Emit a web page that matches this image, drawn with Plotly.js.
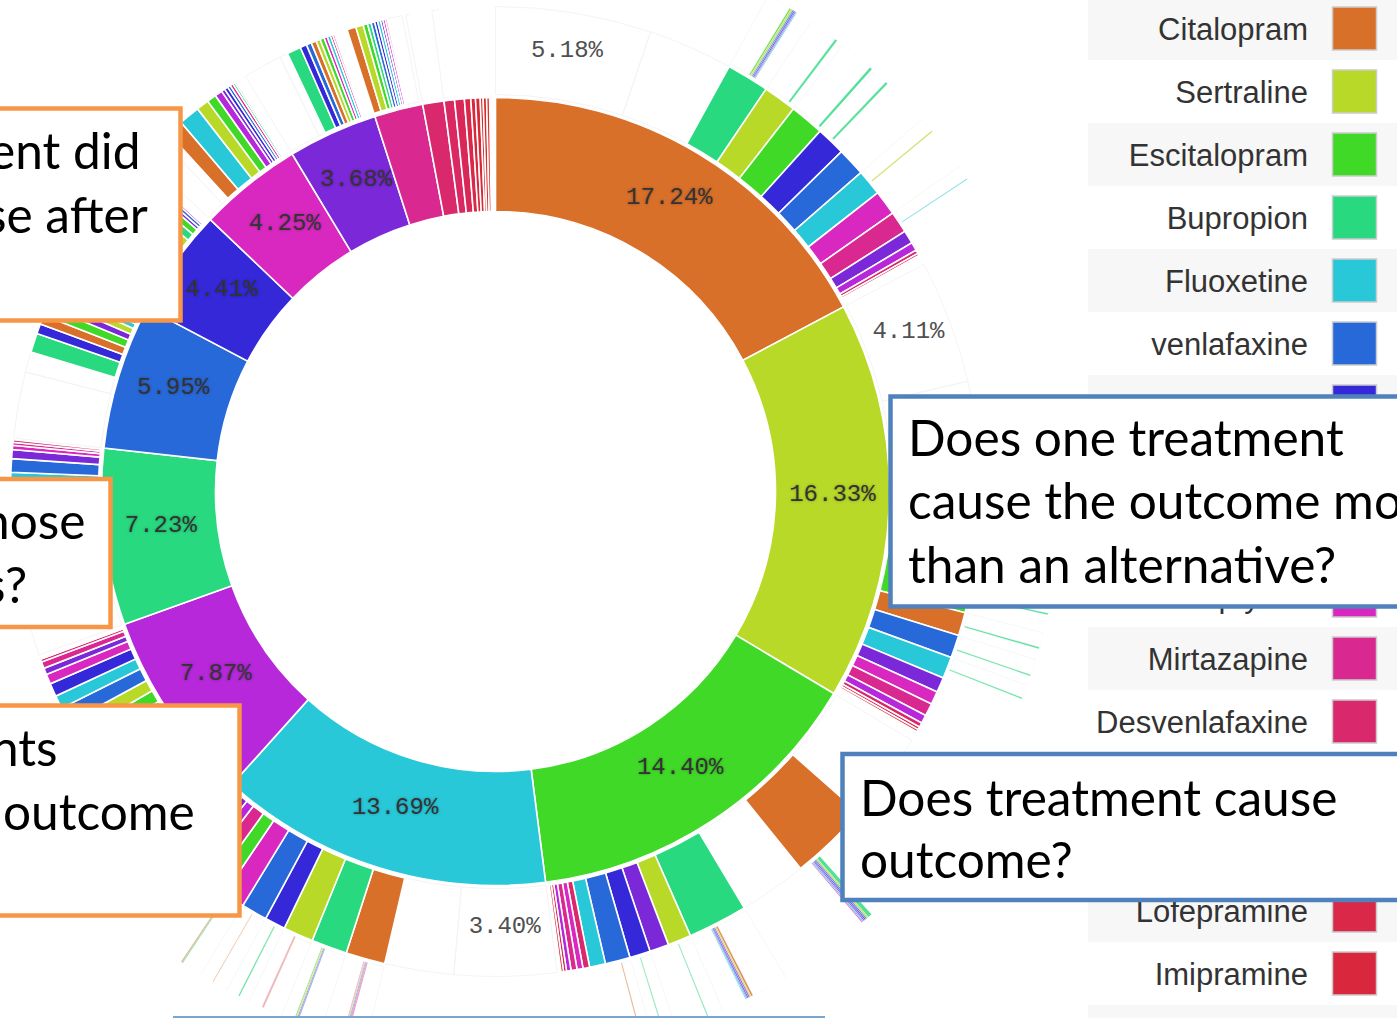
<!DOCTYPE html>
<html><head><meta charset="utf-8">
<script src="https://cdn.plot.ly/plotly-3.0.1.min.js"></script>
<style>
html,body{margin:0;padding:0;width:1397px;height:1018px;overflow:hidden;background:#fff;}
#chart{position:absolute;left:-90px;top:-90px;width:1487px;height:1180px;}
</style></head><body><div id="chart"></div>
<script>
// ---------------- data ----------------
const legendNames = ["Citalopram","Sertraline","Escitalopram","Bupropion","Fluoxetine","venlafaxine","Duloxetine","Paroxetine","Trazodone","Amitriptyline","Mirtazapine","Desvenlafaxine","Nortriptyline","Dosulepin","Lofepramine","Imipramine","Trimipramine","Clomipramine","Phenelzine","Moclobemide"];
const legendColors = ["#d9702a","#b8d928","#41d928","#28d97f","#28c8d9","#2869d9","#3428d9","#7b28d9","#b628d9","#d928c0","#d9288f","#d9286c","#d92862","#d92857","#d92848","#d9283e","#d92834","#d9282e","#d92a28","#d93028"];
// legend rows that are not fully covered by the callout boxes or the page edge
const legendTextShown = [true,true,true,true,true,true,false,false,false,true,true,true,false,false,true,true,false,false,false,false];

// ring 1: first antidepressant (% of patients), clockwise from 12 o'clock
const firstDrug = ["Citalopram","Sertraline","Escitalopram","Fluoxetine","Trazodone","Bupropion","venlafaxine","Duloxetine","Amitriptyline","Paroxetine","Mirtazapine","Desvenlafaxine","Nortriptyline","Dosulepin","Lofepramine","Imipramine","Trimipramine","Clomipramine","Phenelzine","Moclobemide"];
const firstPct = [17.24,16.33,14.40,13.69,7.87,7.23,5.95,4.41,4.25,3.68,1.99,0.87,0.43,0.40,0.26,0.19,0.19,0.12,0.14,0.12];

// ring 2: next drug after the first one ("end" = no switch, "" = unshown remainder)
const citalopramNext = [["end",5.18],["",2.82],["Bupropion",1.42],["Sertraline",1.11],["Escitalopram",1.14],["Duloxetine",0.97],["venlafaxine",0.94],["Fluoxetine",0.86],["Amitriptyline",0.83],["Mirtazapine",0.72],["Paroxetine",0.44],["Trazodone",0.28],["Desvenlafaxine",0.12],["Lofepramine",0.08],["Imipramine",0.06],["Nortriptyline",0.05]];
const sertralineNext = [["end",4.11],["",3.30],["Bupropion",1.90],["Duloxetine",0.90],["Escitalopram",1.57],["Citalopram",0.78],["venlafaxine",0.76],["Fluoxetine",0.72],["Paroxetine",0.50],["Amitriptyline",0.44],["Mirtazapine",0.42],["Trazodone",0.28],["Desvenlafaxine",0.15],["Lofepramine",0.10],["Imipramine",0.08]];
const escitalopramNext = [["end",2.96],["Citalopram",2.64],["",2.26],["Bupropion",1.99],["Sertraline",0.78],["Paroxetine",0.64],["Duloxetine",0.69],["venlafaxine",0.83],["Fluoxetine",0.53],["Desvenlafaxine",0.22],["Amitriptyline",0.20],["Mirtazapine",0.20],["Trazodone",0.15],["Lofepramine",0.10],["Imipramine",0.08]];
const fluoxetineNext = [["end",3.40],["",2.30],["Citalopram",1.31],["Bupropion",1.19],["Sertraline",1.00],["Duloxetine",0.69],["venlafaxine",0.86],["Amitriptyline",0.72],["Escitalopram",0.50],["Mirtazapine",0.50],["Trazodone",0.33],["Paroxetine",0.25],["Desvenlafaxine",0.15],["Lofepramine",0.10],["Imipramine",0.10]];
const trazodoneNext = [["end",2.30],["",0.50],["Citalopram",0.90],["Bupropion",0.77],["Escitalopram",0.50],["Sertraline",0.47],["venlafaxine",0.53],["Fluoxetine",0.44],["Duloxetine",0.44],["Amitriptyline",0.33],["Paroxetine",0.22],["Mirtazapine",0.22],["Desvenlafaxine",0.10],["Lofepramine",0.05]];
const bupropionNext = [["end",2.50],["",0.60],["Citalopram",1.00],["Escitalopram",0.80],["Sertraline",0.70],["Fluoxetine",0.50],["venlafaxine",0.45],["Paroxetine",0.30],["Amitriptyline",0.14],["Mirtazapine",0.10],["Desvenlafaxine",0.08]];
const venlafaxineNext = [["end",2.20],["",0.68],["Bupropion",0.64],["Duloxetine",0.33],["Citalopram",0.31],["Escitalopram",0.31],["Paroxetine",0.25],["Sertraline",0.25],["Fluoxetine",0.20],["Amitriptyline",0.20],["Mirtazapine",0.12],["Desvenlafaxine",0.08]];
const duloxetineNext = [["end",1.90],["",0.40],["Citalopram",0.50],["Sertraline",0.40],["Bupropion",0.30],["Escitalopram",0.25],["Paroxetine",0.12],["venlafaxine",0.12],["Amitriptyline",0.08],["Mirtazapine",0.06],["Desvenlafaxine",0.05]];
const amitriptylineNext = [["end",0.80],["",0.30],["Citalopram",0.55],["Fluoxetine",0.70],["Sertraline",0.42],["Escitalopram",0.31],["Trazodone",0.25],["Paroxetine",0.12],["Duloxetine",0.12],["venlafaxine",0.10],["Mirtazapine",0.10],["Bupropion",0.08],["Desvenlafaxine",0.06],["Lofepramine",0.04]];
const paroxetineNext = [["end",1.30],["",0.27],["Bupropion",0.47],["Duloxetine",0.22],["venlafaxine",0.17],["Citalopram",0.17],["Sertraline",0.14],["Escitalopram",0.14],["Amitriptyline",0.11],["Fluoxetine",0.11],["Mirtazapine",0.08],["Desvenlafaxine",0.06]];
const mirtazapineNext = [["Citalopram",0.30],["Sertraline",0.25],["Escitalopram",0.15],["Bupropion",0.12],["venlafaxine",0.12],["Duloxetine",0.10],["Fluoxetine",0.10],["Paroxetine",0.08],["Amitriptyline",0.08],["Desvenlafaxine",0.06],["end",0.50]];
const desvenlafaxineNext = [["end",0.15],["Citalopram",0.04]];
const nortriptylineNext = [["end",0.25],["Fluoxetine",0.03]];

// ring 3: third drug, per "first>second" path
const thirdSteps = [
 ["Citalopram>Bupropion","",0.70],["Citalopram>Bupropion","Escitalopram",0.05],["Citalopram>Bupropion","Sertraline",0.05],["Citalopram>Bupropion","venlafaxine",0.04],["Citalopram>Bupropion","Duloxetine",0.04],["Citalopram>Bupropion","Paroxetine",0.03],["Citalopram>Bupropion","Fluoxetine",0.03],
 ["Citalopram>Sertraline","",0.83],["Citalopram>Sertraline","Bupropion",0.07],
 ["Citalopram>Escitalopram","",0.98],["Citalopram>Escitalopram","Bupropion",0.08],
 ["Citalopram>Duloxetine","",0.45],["Citalopram>Duloxetine","Bupropion",0.07],
 ["Citalopram>Fluoxetine","",0.42],["Citalopram>Fluoxetine","Sertraline",0.04],
 ["Citalopram>Mirtazapine","",0.40],["Citalopram>Mirtazapine","Fluoxetine",0.03],
 ["Sertraline>Escitalopram","",1.00],["Sertraline>Escitalopram","Bupropion",0.05],
 ["Sertraline>Citalopram","",0.42],["Sertraline>Citalopram","Bupropion",0.05],
 ["Sertraline>venlafaxine","",0.45],["Sertraline>venlafaxine","Bupropion",0.04],
 ["Sertraline>Fluoxetine","",0.38],["Sertraline>Fluoxetine","Bupropion",0.04],
 ["Escitalopram>Citalopram","",1.90],["Escitalopram>Citalopram","Bupropion",0.12],["Escitalopram>Citalopram","Sertraline",0.05],["Escitalopram>Citalopram","venlafaxine",0.04],["Escitalopram>Citalopram","Duloxetine",0.04],["Escitalopram>Citalopram","Paroxetine",0.04],["Escitalopram>Citalopram","Fluoxetine",0.04],["Escitalopram>Citalopram","Amitriptyline",0.03],
 ["Escitalopram>Bupropion","",1.05],["Escitalopram>Bupropion","Citalopram",0.06],["Escitalopram>Bupropion","Sertraline",0.04],["Escitalopram>Bupropion","Paroxetine",0.04],["Escitalopram>Bupropion","Duloxetine",0.04],["Escitalopram>Bupropion","venlafaxine",0.03],["Escitalopram>Bupropion","Fluoxetine",0.03],
 ["Escitalopram>Sertraline","",0.45],["Escitalopram>Sertraline","Bupropion",0.03],
 ["Escitalopram>Duloxetine","",0.35],["Escitalopram>Duloxetine","Bupropion",0.03],
 ["Escitalopram>venlafaxine","",0.30],["Escitalopram>venlafaxine","Citalopram",0.03],
 ["Fluoxetine>Citalopram","",0.55],["Fluoxetine>Citalopram","Desvenlafaxine",0.03],["Fluoxetine>Citalopram","Amitriptyline",0.03],["Fluoxetine>Citalopram","venlafaxine",0.03],["Fluoxetine>Citalopram","Sertraline",0.03],["Fluoxetine>Citalopram","Mirtazapine",0.02],
 ["Fluoxetine>Bupropion","",0.70],["Fluoxetine>Bupropion","venlafaxine",0.03],["Fluoxetine>Bupropion","Paroxetine",0.03],["Fluoxetine>Bupropion","Sertraline",0.03],["Fluoxetine>Bupropion","Escitalopram",0.03],
 ["Fluoxetine>Sertraline","",0.55],["Fluoxetine>Sertraline","Citalopram",0.03],["Fluoxetine>Sertraline","Mirtazapine",0.02],
 ["Fluoxetine>Duloxetine","",0.30],["Fluoxetine>Duloxetine","Bupropion",0.04],
 ["Fluoxetine>venlafaxine","",0.45],["Fluoxetine>venlafaxine","Citalopram",0.02],
 ["Fluoxetine>Amitriptyline","",0.60],["Fluoxetine>Amitriptyline","Bupropion",0.03],["Fluoxetine>Amitriptyline","Citalopram",0.03]
];

// callout boxes laid over the slide
const calloutText = [
 ["ent did","right",140,150],["se after","right",148,214],
 ["hose","right",85,520],["s?","right",27,584],
 ["nts","right",58,747],["outcome","right",195,811],
 ["Does one treatment","left",908,437],["cause the outcome more","left",908,500],["than an alternative?","left",908,564],
 ["Does treatment cause","left",860,797],["outcome?","left",860,859]
];

// --------------- build ---------------
const secondLevel = {Citalopram:citalopramNext, Sertraline:sertralineNext, Escitalopram:escitalopramNext, Fluoxetine:fluoxetineNext, Trazodone:trazodoneNext, Bupropion:bupropionNext, venlafaxine:venlafaxineNext, Duloxetine:duloxetineNext, Amitriptyline:amitriptylineNext, Paroxetine:paroxetineNext, Mirtazapine:mirtazapineNext, Desvenlafaxine:desvenlafaxineNext, Nortriptyline:nortriptylineNext};

const W=1487, H=1180, OX=90, OY=90;      // plot div is offset (-90,-90) in the page
const CX=495.5, CY=491.5, RMAX=566;       // centre of the sunburst on the page
const R1=[280,394], R2=[397,485], R3=[488,566];
const DEG=3.6, LABEL_LIFT=5;
function colorOf(n){const i=legendNames.indexOf(n);return i<0?null:legendColors[i];}
function store(){return {theta:[],width:[],color:[]};}
const col={1:store(),2:store(),3:store()}, blank={2:store(),3:store()};
function add(ring,start,pct,name){
  const w=pct*DEG, c=colorOf(name);
  if(c){col[ring].theta.push(start+w/2);col[ring].width.push(w);col[ring].color.push(c);}
  else if(blank[ring]){blank[ring].theta.push(start+w/2);blank[ring].width.push(w);}
  return start+w;
}
// label anchor: arc centroid, nudged a few pixels up so the glyphs sit centred
function labelPos(r,th,out){
  const t=th*Math.PI/180, dx=r*Math.sin(t), dy=r*Math.cos(t)+LABEL_LIFT;
  out.r.push(Math.sqrt(dx*dx+dy*dy)); out.theta.push(Math.atan2(dx,dy)*180/Math.PI);
}
const lab1={r:[],theta:[],text:[]}, lab2={r:[],theta:[],text:[]};
const startOf={};
let pos=0;
firstDrug.forEach((d,i)=>{
  const s=pos;
  if(firstPct[i]>=3){labelPos((R1[0]+R1[1])/2,s+firstPct[i]*DEG/2,lab1);lab1.text.push(firstPct[i].toFixed(2)+'%');}
  pos=add(1,s,firstPct[i],d);
  let p=s;
  (secondLevel[d]||[]).forEach(([n,v])=>{
    startOf[d+'>'+n]=p;
    if(n==='end'&&v>=3){labelPos((R2[0]+R2[1])/2,p+v*DEG/2,lab2);lab2.text.push(v.toFixed(2)+'%');}
    p=add(2,p,v,n);
  });
});
let cur=null,p3=0;
thirdSteps.forEach(([path,n,v])=>{
  if(path!==cur){cur=path;p3=startOf[path];}
  p3=add(3,p3,v,n);
});

function bars(st,R,lineW,lineC,fill,op){
  return {type:'barpolar',theta:st.theta,width:st.width,base:st.theta.map(()=>R[0]),r:st.theta.map(()=>R[1]-R[0]),
    marker:{color:fill||st.color,line:{color:lineC,width:lineW},opacity:op||1},hoverinfo:'skip',showlegend:false};
}
const legendIdx=legendNames.map((_,i)=>i).filter(i=>legendTextShown[i]);
const traces=[
  bars(blank[2],R2,1,'#f4f4f4','rgba(255,255,255,0)'),
  bars(blank[3],R3,1,'#f7f7f7','rgba(255,255,255,0)'),
  bars(col[1],R1,1.6,'#ffffff'),
  bars(col[2],R2,1.6,'#ffffff'),
  bars(col[3],R3,0.4,'#ffffff',null,0.8),
  {type:'scatterpolar',mode:'text',r:lab1.r,theta:lab1.theta,text:lab1.text,
   textfont:{family:'Liberation Mono, monospace',size:24,color:'#333333',shadow:'0px 0px 3px rgba(0,0,0,0.3)'},hoverinfo:'skip',showlegend:false,cliponaxis:false},
  {type:'scatterpolar',mode:'text',r:lab2.r,theta:lab2.theta,text:lab2.text,
   textfont:{family:'Liberation Mono, monospace',size:24,color:'#505050'},hoverinfo:'skip',showlegend:false,cliponaxis:false},
  {type:'scatter',mode:'text',x:legendIdx.map(()=>1308),y:legendIdx.map(i=>63*i+32),text:legendIdx.map(i=>legendNames[i]),
   textposition:'middle left',textfont:{family:'Liberation Sans, Arial, sans-serif',size:31,color:'#333333'},
   hoverinfo:'skip',showlegend:false,cliponaxis:false}
];

const shapes=[];
for(let i=0;i<=16;i+=2){shapes.push({type:'rect',xref:'x',yref:'y',x0:1088,x1:1420,y0:63*i-3,y1:63*i+60,fillcolor:'#f7f7f7',line:{width:0},layer:'below'});}
legendNames.slice(0,16).forEach((n,i)=>{shapes.push({type:'rect',xref:'x',yref:'y',x0:1332.5,x1:1376.5,y0:63*i+7,y1:63*i+50,fillcolor:legendColors[i],line:{color:'#cccccc',width:1.5},layer:'below'});});
const orange='#f79646', blue='#4f81bd';
[[-120,180.5,108.5,320.5,orange],[-120,110.5,479,627,orange],[-120,239.5,705.5,915.5,orange],[890.5,1500,396.5,606.5,blue],[842.5,1500,754,900,blue]]
 .forEach(([x0,x1,y0,y1,c])=>shapes.push({type:'rect',xref:'x',yref:'y',x0,x1,y0,y1,fillcolor:'#ffffff',line:{color:c,width:4.5},layer:'above'}));
shapes.push({type:'line',xref:'x',yref:'y',x0:173,x1:825,y0:1017,y1:1017,line:{color:'#7aa7cf',width:2},layer:'above'});

const annotations=calloutText.map(([t,a,x,y])=>({xref:'x',yref:'y',x,y,text:t,showarrow:false,xanchor:a,yanchor:'middle',
  font:{family:'Lato, sans-serif',size:49.6,color:'#000000'},borderpad:0,borderwidth:0}));

const layout={width:W,height:H,margin:{l:0,r:0,t:0,b:0},paper_bgcolor:'#ffffff',plot_bgcolor:'rgba(0,0,0,0)',showlegend:false,
  xaxis:{range:[-OX,W-OX],visible:false,fixedrange:true},
  yaxis:{range:[H-OY,-OY],visible:false,fixedrange:true},
  polar:{domain:{x:[(CX+OX-RMAX)/W,(CX+OX+RMAX)/W],y:[1-(CY+OY+RMAX)/H,1-(CY+OY-RMAX)/H]},
    bgcolor:'rgba(0,0,0,0)',barmode:'overlay',
    radialaxis:{range:[0,RMAX],visible:false,showgrid:false},
    angularaxis:{direction:'clockwise',rotation:90,visible:false,showgrid:false}},
  shapes,annotations};
Plotly.newPlot('chart',traces,layout,{staticPlot:true,displayModeBar:false});
</script></body></html>
